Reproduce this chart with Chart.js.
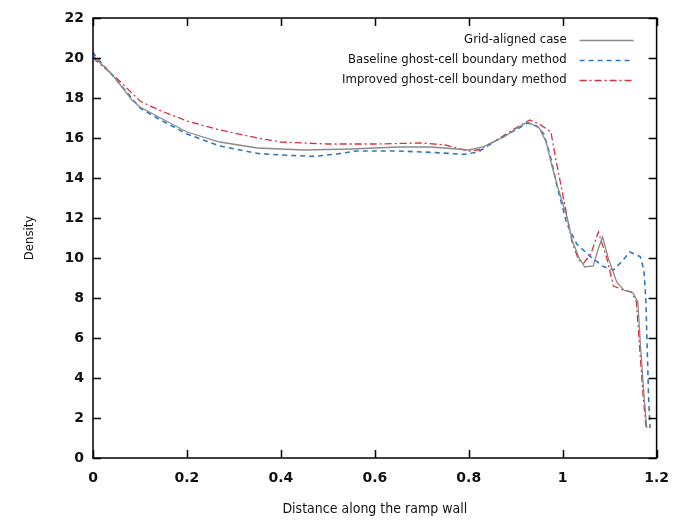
<!DOCTYPE html>
<html>
<head>
<meta charset="utf-8">
<script src="https://cdn.jsdelivr.net/npm/chart.js@4"></script>
<style>
  html, body { margin: 0; padding: 0; background: #fff; }
  #wrap { width: 681px; height: 528px; }
</style>
</head>
<body>
<div id="wrap"><canvas id="chart" width="681" height="528"></canvas></div>
<script>
// density along the ramp wall, three boundary treatments
const gridX = [0, 0.04, 0.083, 0.1, 0.14, 0.2, 0.27, 0.35, 0.45, 0.55, 0.65, 0.72, 0.8, 0.83, 0.875, 0.903, 0.925, 0.95, 0.965, 0.975, 0.99, 1.01, 1.02, 1.035, 1.047, 1.065, 1.075, 1.085, 1.097, 1.115, 1.13, 1.15, 1.16, 1.166, 1.173, 1.179];
const gridY = [20.1, 19.2, 17.9, 17.55, 17.05, 16.3, 15.8, 15.5, 15.4, 15.45, 15.55, 15.55, 15.4, 15.55, 16.05, 16.5, 16.8, 16.5, 15.8, 14.8, 13.5, 12.0, 10.9, 10.0, 9.55, 9.6, 10.4, 11.05, 10.0, 8.8, 8.4, 8.25, 7.8, 5.5, 3.2, 1.5];

const baseX = [0, 0.005, 0.05, 0.1, 0.14, 0.2, 0.27, 0.35, 0.4, 0.47, 0.52, 0.56, 0.65, 0.73, 0.79, 0.82, 0.86, 0.9, 0.925, 0.945, 0.96, 0.974, 0.988, 1.009, 1.03, 1.059, 1.087, 1.108, 1.125, 1.143, 1.165, 1.173, 1.177, 1.18, 1.183, 1.186];
const baseY = [20.3, 20.1, 18.9, 17.5, 16.95, 16.2, 15.6, 15.23, 15.15, 15.08, 15.2, 15.35, 15.35, 15.27, 15.18, 15.3, 15.9, 16.4, 16.75, 16.6, 16.2, 15.07, 13.6, 11.7, 10.7, 10.07, 9.57, 9.4, 9.8, 10.3, 10.07, 9.4, 8.0, 5.5, 3.0, 1.5];

const implX = [0, 0.05, 0.1, 0.14, 0.2, 0.27, 0.35, 0.4, 0.5, 0.6, 0.7, 0.75, 0.8, 0.82, 0.86, 0.9, 0.93, 0.95, 0.975, 0.985, 1.005, 1.02, 1.034, 1.045, 1.06, 1.076, 1.094, 1.108, 1.13, 1.147, 1.157, 1.164, 1.171, 1.178];
const implY = [20.0, 19.0, 17.85, 17.4, 16.85, 16.4, 16.0, 15.8, 15.7, 15.7, 15.75, 15.65, 15.35, 15.4, 15.9, 16.5, 16.9, 16.7, 16.3, 15.0, 12.6, 10.8, 9.9, 9.75, 10.2, 11.3, 10.0, 8.6, 8.4, 8.3, 7.8, 5.5, 3.2, 1.4];

const seriesNames = ['Grid-aligned case', 'Baseline ghost-cell boundary method', 'Improved ghost-cell boundary method'];

function pts(xs, ys) {
  return xs.map((x, i) => ({ x: x, y: ys[i] }));
}

// gnuplot style: ticks pointing inward on all four sides + closed frame
const frameTicks = {
  id: 'frameTicks',
  afterDatasetsDraw(chart) {
    const ctx = chart.ctx;
    const a = chart.chartArea;
    const xs = chart.scales.x, ys = chart.scales.y;
    const len = 8;
    ctx.save();
    ctx.strokeStyle = '#000';
    ctx.lineWidth = 1.5;
    ctx.beginPath();
    xs.ticks.forEach(t => {
      const px = Math.round(xs.getPixelForValue(t.value)) + 0.5;
      ctx.moveTo(px, a.bottom); ctx.lineTo(px, a.bottom - len);
      ctx.moveTo(px, a.top); ctx.lineTo(px, a.top + len);
    });
    ys.ticks.forEach(t => {
      const py = Math.round(ys.getPixelForValue(t.value)) + 0.5;
      ctx.moveTo(a.left, py); ctx.lineTo(a.left + len, py);
      ctx.moveTo(a.right, py); ctx.lineTo(a.right - len, py);
    });
    ctx.stroke();
    ctx.strokeRect(a.left, a.top, a.right - a.left, a.bottom - a.top);
    ctx.restore();
  }
};

// key in the top right corner: text first, line sample after it
const keyBox = {
  id: 'keyBox',
  afterDraw(chart) {
    const ctx = chart.ctx;
    const a = chart.chartArea;
    ctx.save();
    ctx.font = '13px "DejaVu Sans Condensed", "DejaVu Sans"';
    ctx.fillStyle = '#111';
    ctx.textAlign = 'right';
    ctx.textBaseline = 'middle';
    chart.data.datasets.forEach((ds, i) => {
      const y = a.top + 22 + i * 20;
      ctx.fillText(ds.label, a.right - 90, y);
      ctx.beginPath();
      ctx.strokeStyle = ds.borderColor;
      ctx.lineWidth = ds.borderWidth;
      ctx.setLineDash(ds.borderDash || []);
      ctx.moveTo(a.right - 77, y + 0.5);
      ctx.lineTo(a.right - 23, y + 0.5);
      ctx.stroke();
    });
    ctx.restore();
  }
};

const ctx = document.getElementById('chart').getContext('2d');
new Chart(ctx, {
  type: 'scatter',
  data: {
    datasets: [
      { label: seriesNames[0], data: pts(gridX, gridY), borderColor: '#8a8a8a', borderWidth: 1.3, borderDash: [] },
      { label: seriesNames[1], data: pts(baseX, baseY), borderColor: '#2f78bd', borderWidth: 1.6, borderDash: [5, 4] },
      { label: seriesNames[2], data: pts(implX, implY), borderColor: '#d6303a', borderWidth: 1.3, borderDash: [7, 3, 2, 3] }
    ].map(d => Object.assign(d, { showLine: true, pointRadius: 0, fill: false, tension: 0 }))
  },
  options: {
    responsive: false,
    animation: false,
    layout: { padding: { top: 18, right: 21, left: 0, bottom: 0 } },
    plugins: { legend: { display: false }, tooltip: { enabled: false } },
    scales: {
      x: {
        type: 'linear', min: 0, max: 1.2,
        afterFit: s => { s.height = 70; },
        grid: { display: false, drawTicks: false },
        border: { display: false },
        ticks: {
          stepSize: 0.2, padding: 12, color: '#111',
          font: { family: 'DejaVu Sans', size: 14, weight: 'bold' },
          callback: v => String(parseFloat(v.toFixed(1)))
        },
        title: {
          display: true, text: 'Distance along the ramp wall', color: '#111',
          font: { family: 'DejaVu Sans Condensed', size: 14 }, padding: { top: 0, bottom: 10 }
        }
      },
      y: {
        type: 'linear', min: 0, max: 22,
        afterFit: s => { s.width = 93; },
        grid: { display: false, drawTicks: false },
        border: { display: false },
        ticks: {
          stepSize: 2, padding: 9, color: '#111',
          font: { family: 'DejaVu Sans', size: 14, weight: 'bold' }
        },
        title: {
          display: true, text: 'Density', color: '#111',
          font: { family: 'DejaVu Sans Condensed', size: 13 }, padding: { top: 22, bottom: 0 }
        }
      }
    }
  },
  plugins: [frameTicks, keyBox]
});
</script>
</body>
</html>
